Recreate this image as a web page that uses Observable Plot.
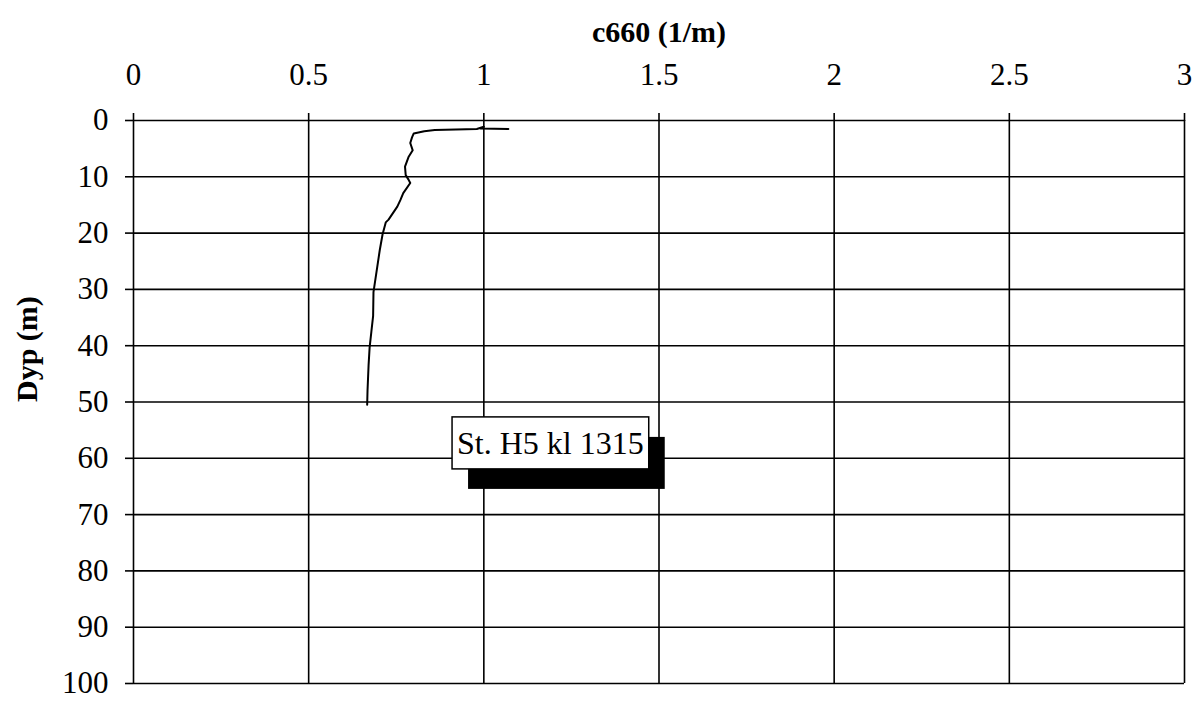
<!DOCTYPE html>
<html><head><meta charset="utf-8">
<script src="https://cdn.jsdelivr.net/npm/d3@7"></script>
<script src="https://cdn.jsdelivr.net/npm/@observablehq/plot@0.6"></script>
<style>body{margin:0;background:#fff}</style>
</head><body><div id="chart"></div>
<script>
// Profile values (depth in m, c660 in 1/m)
const depth = [1.5, 1.4, 1.1, 1.5, 1.6, 1.7, 1.9, 2.3, 3.0, 4.0, 5.3, 6.5, 8.2, 9.7, 10.5, 11.1, 12.9, 14.1, 15.3, 17.6, 18.1, 20.2, 23.0, 25.9, 30.5, 34.7, 37.5, 40.3, 43.5, 48.0, 50.5];
const c660  = [1.07, 0.99, 1.00, 0.98, 0.92, 0.86, 0.83, 0.80, 0.795, 0.79, 0.797, 0.785, 0.775, 0.777, 0.785, 0.79, 0.77, 0.762, 0.753, 0.728, 0.72, 0.711, 0.703, 0.696, 0.685, 0.684, 0.679, 0.674, 0.671, 0.668, 0.667];
const xTicks = [0, 0.5, 1, 1.5, 2, 2.5, 3];
const yTicks = [0, 10, 20, 30, 40, 50, 60, 70, 80, 90, 100];
const xTitle = "c660 (1/m)";
const yTitle = "Dyp (m)";
const annLabel = ["St. H5 kl 1315"];
const annC = [1.19];
const annDepth = [57.4];

const profile = depth.map((d, i) => ({depth: d, c: c660[i]}));
const ann = annLabel.map((l, i) => ({label: l, c: annC[i], depth: annDepth[i]}));

const chart = Plot.plot({
  width: 1199, height: 701,
  marginLeft: 133, marginRight: 15, marginTop: 120, marginBottom: 18,
  style: {fontFamily: "'Liberation Serif', 'Times New Roman', serif", fontSize: "31px", color: "#000", background: "#fff", overflow: "visible"},
  x: {domain: [0, 3]},
  y: {domain: [0, 100], reverse: true},
  marks: [
    Plot.gridX(xTicks, {stroke: "#000", strokeOpacity: 1, strokeWidth: 1.6}),
    Plot.gridY(yTicks, {stroke: "#000", strokeOpacity: 1, strokeWidth: 1.6}),
    Plot.axisX(xTicks, {anchor: "top", tickSize: 8, tickPadding: 28, label: null, tickFormat: d => String(d), stroke: "#000", strokeWidth: 1.6}),
    Plot.axisY(yTicks, {anchor: "left", tickSize: 8, tickPadding: 17, label: null, tickFormat: d => String(d), stroke: "#000", strokeWidth: 1.6}),
    Plot.line(profile, {x: "c", y: "depth", stroke: "#000", strokeWidth: 2}),
    Plot.text([xTitle], {frameAnchor: "top", lineAnchor: "middle", dy: -88, fontSize: 30, fontWeight: "bold", fill: "#000"}),
    Plot.text([yTitle], {frameAnchor: "left", dx: -106, rotate: -90, fontSize: 30, fontWeight: "bold", fill: "#000"}),
    Plot.text(ann, {x: "c", y: "depth", text: "label", fontSize: 32, fill: "#000", className: "ann"})
  ]
});
document.getElementById("chart").appendChild(chart);

// Add the boxed label with its drop shadow behind the annotation text
d3.select(chart).selectAll("g.ann text").each(function() {
  const bb = this.getBBox();
  const tr = this.getAttribute("transform");
  const parent = this.parentNode;
  const padX = 5, padY = 8;
  const shadow = document.createElementNS("http://www.w3.org/2000/svg", "rect");
  shadow.setAttribute("x", bb.x - padX + 16);
  shadow.setAttribute("y", bb.y - padY + 20);
  shadow.setAttribute("width", bb.width + 2 * padX);
  shadow.setAttribute("height", bb.height + 2 * padY);
  shadow.setAttribute("fill", "#000");
  if (tr) shadow.setAttribute("transform", tr);
  const box = document.createElementNS("http://www.w3.org/2000/svg", "rect");
  box.setAttribute("x", bb.x - padX);
  box.setAttribute("y", bb.y - padY);
  box.setAttribute("width", bb.width + 2 * padX);
  box.setAttribute("height", bb.height + 2 * padY);
  box.setAttribute("fill", "#fff");
  box.setAttribute("stroke", "#000");
  box.setAttribute("stroke-width", 1.5);
  if (tr) box.setAttribute("transform", tr);
  parent.insertBefore(shadow, this);
  parent.insertBefore(box, this);
});
</script>
</body></html>
